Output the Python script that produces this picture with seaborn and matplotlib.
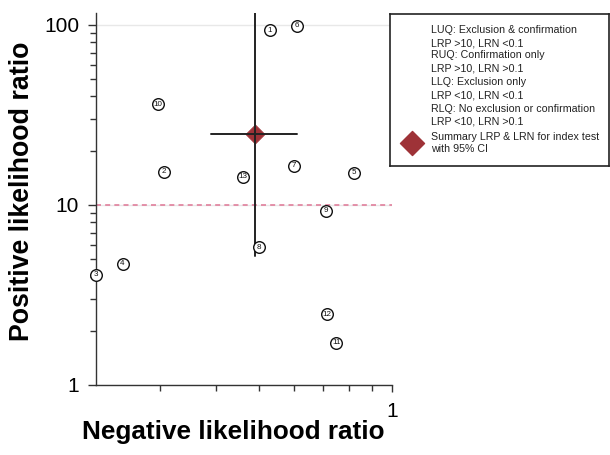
import matplotlib
matplotlib.use("Agg")
import matplotlib.pyplot as plt
from matplotlib.ticker import FixedLocator, NullFormatter
import pandas
import seaborn

# study estimates (LRN on x, LRP on y)
STUDY_ID = [1, 2, 3, 4, 5, 6, 7, 8, 9, 10, 11, 12, 13]
STUDY_LRN = [0.53, 0.306, 0.215, 0.247, 0.82, 0.61, 0.60, 0.50, 0.708, 0.297, 0.748, 0.713, 0.462]
STUDY_LRP = [93, 15.3, 4.1, 4.7, 15.1, 99, 16.5, 5.8, 9.3, 36.2, 1.71, 2.47, 14.3]

# summary point with 95% CI
SUMMARY_LRN = [0.49]
SUMMARY_LRP = [24.8]
SUMMARY_LRN_CI = [0.39, 0.61]
SUMMARY_LRP_CI = [5.2, 140]

LEGEND_LINES = [
    "LUQ: Exclusion & confirmation",
    "LRP >10, LRN <0.1",
    "RUQ: Confirmation only",
    "LRP >10, LRN >0.1",
    "LLQ: Exclusion only",
    "LRP <10, LRN <0.1",
    "RLQ: No exclusion or confirmation",
    "LRP <10, LRN >0.1",
]
LEGEND_SUMMARY = "Summary LRP & LRN for index test\nwith 95% CI"

DIAMOND_COLOR = "#9e3237"
AXIS_COLOR = "#333333"

seaborn.set_theme(style="white")
plt.rcParams["font.family"] = ["Liberation Sans", "DejaVu Sans"]
plt.rcParams["text.color"] = "black"
plt.rcParams["axes.labelcolor"] = "black"
plt.rcParams["xtick.color"] = "black"
plt.rcParams["ytick.color"] = "black"

study_df = pandas.DataFrame({"lrn": STUDY_LRN, "lrp": STUDY_LRP, "id": STUDY_ID})
summary_df = pandas.DataFrame({"lrn": SUMMARY_LRN, "lrp": SUMMARY_LRP})

fig = plt.figure(figsize=(6.1, 4.55), dpi=100)
ax = fig.add_axes([0.157, 0.154, 0.486, 0.817])

ax.set_xscale("log")
ax.set_yscale("log")
ax.set_xlim(0.215, 1.0)
ax.set_ylim(1, 116)

ax.yaxis.grid(True, which="major", color="#e8e8e8", lw=1)
ax.axhline(10, color="#e07f9c", lw=1.2, ls=(0, (3, 2.5)), zorder=1)

seaborn.scatterplot(data=summary_df, x="lrn", y="lrp", marker="D", s=95,
                    color=DIAMOND_COLOR, edgecolor=DIAMOND_COLOR, linewidth=0.5,
                    ax=ax, zorder=2, clip_on=False)

# confidence interval lines, drawn over the diamond
ax.plot([SUMMARY_LRN[0], SUMMARY_LRN[0]], SUMMARY_LRP_CI, color="#222222", lw=1.4, zorder=3)
ax.plot(SUMMARY_LRN_CI, [SUMMARY_LRP[0], SUMMARY_LRP[0]], color="#222222", lw=1.4, zorder=3)

seaborn.scatterplot(data=study_df, x="lrn", y="lrp", marker="o", s=70,
                    facecolor="white", edgecolor="#111111", linewidth=1.0,
                    ax=ax, zorder=5, clip_on=False)
for _, row in study_df.iterrows():
    ax.text(row["lrn"], row["lrp"], str(int(row["id"])), ha="center", va="center",
            fontsize=5.8, color="#111111", zorder=6)

# axes styling
for side in ["top", "right"]:
    ax.spines[side].set_visible(False)
for side in ["left", "bottom"]:
    ax.spines[side].set_color(AXIS_COLOR)
    ax.spines[side].set_linewidth(1.0)

ax.set_xticks([1])
ax.set_xticklabels(["1"])
ax.xaxis.set_minor_locator(FixedLocator([0.3, 0.4, 0.5, 0.6, 0.7, 0.8, 0.9]))
ax.xaxis.set_minor_formatter(NullFormatter())
ax.set_yticks([1, 10, 100])
ax.set_yticklabels(["1", "10", "100"])
ax.yaxis.set_minor_locator(FixedLocator([v * d for d in [1, 10] for v in range(2, 10)]))
ax.yaxis.set_minor_formatter(NullFormatter())

ax.tick_params(axis="x", which="major", length=5, width=1, color=AXIS_COLOR,
               labelsize=15, pad=7, direction="out", bottom=True)
ax.tick_params(axis="x", which="minor", length=4, width=1, color=AXIS_COLOR,
               direction="out", bottom=True)
ax.tick_params(axis="y", which="major", length=6, width=1, color=AXIS_COLOR,
               labelsize=15, pad=6, direction="out", left=True)
ax.tick_params(axis="y", which="minor", length=4, width=1, color=AXIS_COLOR,
               direction="out", left=True)

ax.set_xlabel("Negative likelihood ratio", fontsize=18.8, fontweight="bold")
ax.set_ylabel("Positive likelihood ratio", fontsize=19.3, fontweight="bold")
ax.xaxis.set_label_coords(0.465, -0.094)
ax.yaxis.set_label_coords(-0.205, 0.52)

# legend box
lax = fig.add_axes([390 / 610, 1 - 166 / 455, 219 / 610, 152 / 455])
lax.set_xlim(0, 219)
lax.set_ylim(152, 0)
lax.set_xticks([])
lax.set_yticks([])
for s in lax.spines.values():
    s.set_color("#222222")
    s.set_linewidth(1.2)
line_y = [16, 29, 41, 54, 68, 82, 95, 108]
for text, yy in zip(LEGEND_LINES, line_y):
    lax.text(41, yy, text, fontsize=7.7, va="center", ha="left", color="#222222")
lax.text(41, 129, LEGEND_SUMMARY, fontsize=7.7, va="center", ha="left",
         color="#222222", linespacing=1.25)
lax.scatter([22], [129], marker="D", s=150, color=DIAMOND_COLOR)

fig.savefig("out.png", dpi=100)
